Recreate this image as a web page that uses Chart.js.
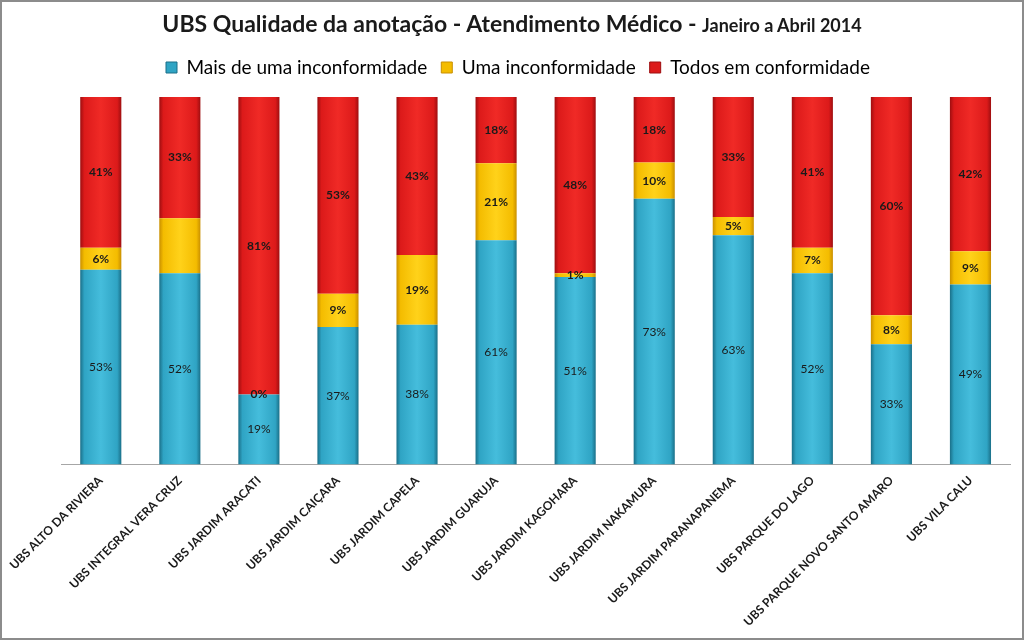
<!DOCTYPE html>
<html><head><meta charset="utf-8">
<script src="https://cdn.jsdelivr.net/npm/chart.js@4"></script>
<style>
html,body{margin:0;padding:0;background:#fff;}
#wrap{position:relative;width:1020px;height:636px;border:2px solid #8c8c8c;overflow:hidden;}
#title{position:absolute;left:0;right:0;top:7px;text-align:center;font-family:Lato,'Liberation Sans',sans-serif;font-weight:bold;color:#1a1a1a;white-space:nowrap;}
#title .big{font-size:23px;}
#title .small{font-size:18px;}
canvas{position:absolute;left:0;top:0;}
</style></head><body>
<div id="wrap">
<canvas id="c" width="1020" height="636"></canvas>
<div id="title"><span class="big">UBS Qualidade da anotação - Atendimento Médico - </span><span class="small">Janeiro a Abril 2014</span></div>
</div>
<script>
const categories = ["UBS ALTO DA RIVIERA","UBS INTEGRAL VERA CRUZ","UBS JARDIM ARACATI","UBS JARDIM CAIÇARA","UBS JARDIM CAPELA","UBS JARDIM GUARUJA","UBS JARDIM KAGOHARA","UBS JARDIM NAKAMURA","UBS JARDIM PARANAPANEMA","UBS PARQUE DO LAGO","UBS PARQUE NOVO SANTO AMARO","UBS VILA CALU"];
const maisDeUma = [53,52,19,37,38,61,51,73,63,52,33,49];
const umaInconf = [6,15,0,9,19,21,1,10,5,7,8,9];
const todosConf = [41,33,81,53,43,18,48,18,33,41,60,42];
const hiddenLabels = [[1,1]]; // [datasetIndex, dataIndex] with no label shown
const seriesNames = ["Mais de uma inconformidade","Uma inconformidade","Todos em conformidade"];

const FONT = "Lato, 'Liberation Sans', sans-serif";
const BAR_PCT = 0.52;
const raw = [maisDeUma, umaInconf, todosConf];
const totals = categories.map((_, i) => raw.reduce((s, a) => s + a[i], 0));
const norm = arr => arr.map((v, i) => v / totals[i] * 100);

const palettes = [
  {edge:'#1a6f88', mid:'#45bddc', solid:'#2fa4c4'},
  {edge:'#c98f00', mid:'#ffd21a', solid:'#f4bc00'},
  {edge:'#9e0e10', mid:'#f02a26', solid:'#dc1a1a'}
];
function grad(p){
  return (ctx) => {
    const chart = ctx.chart;
    const sx = chart.scales && chart.scales.x;
    if (!chart.chartArea || !sx || ctx.dataIndex == null) return p.solid;
    const cx = sx.getPixelForValue(ctx.dataIndex);
    const w = sx.width / categories.length * BAR_PCT;
    const x0 = cx - w/2, x1 = cx + w/2;
    if (!isFinite(x0) || !isFinite(x1) || x1 <= x0) return p.solid;
    const g = chart.ctx.createLinearGradient(x0, 0, x1, 0);
    g.addColorStop(0, p.edge);
    g.addColorStop(0.1, p.solid);
    g.addColorStop(0.5, p.mid);
    g.addColorStop(0.9, p.solid);
    g.addColorStop(1, p.edge);
    return g;
  };
}

const labelPlugin = {
  id: 'segLabels',
  afterDatasetsDraw(chart){
    const ctx = chart.ctx;
    ctx.save();
    ctx.textAlign = 'center';
    ctx.textBaseline = 'middle';
    ctx.fillStyle = '#1a1a1a';
    chart.data.datasets.forEach((ds, di) => {
      const meta = chart.getDatasetMeta(di);
      meta.data.forEach((el, i) => {
        if (hiddenLabels.some(h => h[0] === di && h[1] === i)) return;
        const v = raw[di][i];
        ctx.font = (di === 0 ? 'normal ' : 'bold ') + '12px ' + FONT;
        const y = (el.y + el.base) / 2;
        ctx.fillText(v + '%', el.x, y);
      });
    });
    ctx.restore();
  }
};

const legendMargin = {
  id: 'legendMargin',
  beforeInit(chart){
    const fit = chart.legend.fit;
    chart.legend.fit = function(){ fit.bind(chart.legend)(); this.height += 10; };
  }
};

new Chart(document.getElementById('c'), {
  type: 'bar',
  data: {
    labels: categories,
    datasets: raw.map((arr, k) => ({
      label: seriesNames[k],
      data: norm(arr),
      backgroundColor: grad(palettes[k]),
      borderColor: palettes[k].edge,
      borderWidth: 0,
      categoryPercentage: 1,
      barPercentage: BAR_PCT
    }))
  },
  options: {
    responsive: false,
    animation: false,
    devicePixelRatio: 1,
    layout: {padding: {top: 42, left: 24, right: 12, bottom: 0}},
    plugins: {
      legend: {
        position: 'top',
        labels: {
          boxWidth: 11, boxHeight: 11, padding: 14,
          color: '#1a1a1a',
          font: {family: FONT, size: 19},
          generateLabels(chart){
            return chart.data.datasets.map((ds, i) => ({
              text: ds.label, fillStyle: palettes[i].solid, strokeStyle: palettes[i].edge,
              lineWidth: 1, datasetIndex: i, hidden: false
            }));
          }
        }
      },
      tooltip: {enabled: false}
    },
    scales: {
      x: {
        stacked: true,
        grid: {display: false, drawTicks: false},
        border: {display: true, color: '#a6a6a6', width: 1},
        ticks: {
          maxRotation: 45, minRotation: 45, autoSkip: false, padding: 9,
          color: '#1a1a1a', font: {family: FONT, size: 12, weight: 'bold'}
        }
      },
      y: {
        stacked: true, min: 0, max: 100, display: false
      }
    }
  },
  plugins: [labelPlugin, legendMargin]
});
</script>
</body></html>
